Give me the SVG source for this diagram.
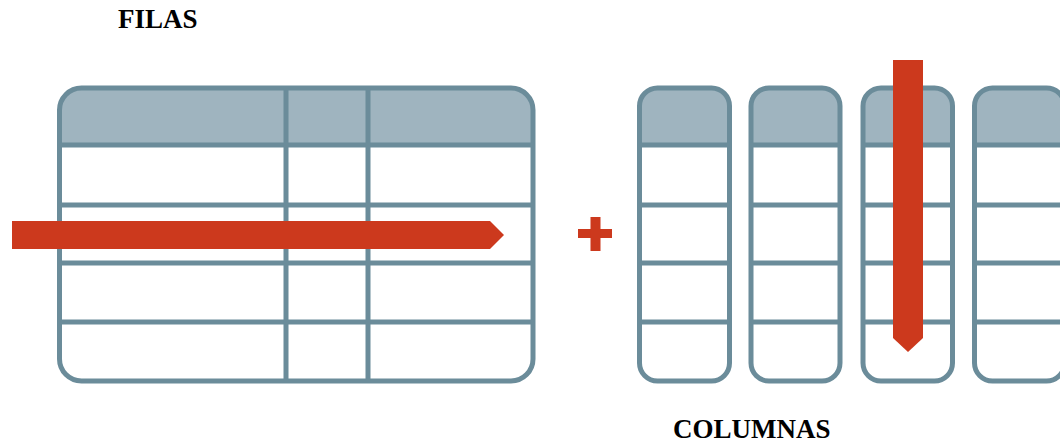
<svg xmlns="http://www.w3.org/2000/svg" width="1060" height="443" viewBox="0 0 1060 443">
<style>
.hdr{fill:#9fb4bf}
.frame{fill:none;stroke:#6b8c9a;stroke-width:5}
.ln{stroke:#6b8c9a;stroke-width:5}
.red{fill:#cc391d}
.lbl{font-family:"Liberation Serif",serif;font-weight:bold;font-size:27px;fill:#000}
</style>
<rect width="1060" height="443" fill="#fff"/>
<text class="lbl" x="118" y="28">FILAS</text>
<g id="table-filas">
<path class="hdr" d="M59.5,145 V110 A22,22 0 0 1 81.5,88 H511 A22,22 0 0 1 533,110 V145 Z"/>
<rect class="frame" x="59.5" y="88" width="473.5" height="293" rx="22"/>
<line class="ln" x1="59.5" y1="145" x2="533" y2="145"/>
<line class="ln" x1="59.5" y1="205" x2="533" y2="205"/>
<line class="ln" x1="59.5" y1="263" x2="533" y2="263"/>
<line class="ln" x1="59.5" y1="322" x2="533" y2="322"/>
<line class="ln" x1="286" y1="88" x2="286" y2="381"/>
<line class="ln" x1="368" y1="88" x2="368" y2="381"/>
</g>
<g id="arrow-filas">
<polygon class="red" points="12,221 490,221 504,235 490,249 12,249"/>
</g>
<g id="plus">
<rect class="red" x="578" y="229" width="34" height="9"/>
<rect class="red" x="590.5" y="217" width="10" height="34"/>
</g>
<g id="col1">
<path class="hdr" d="M639.5,145 V106 A18,18 0 0 1 657.5,88 H711.5 A18,18 0 0 1 729.5,106 V145 Z"/>
<rect class="frame" x="639.5" y="88" width="90" height="293" rx="18"/>
<line class="ln" x1="639.5" y1="145" x2="729.5" y2="145"/>
<line class="ln" x1="639.5" y1="205" x2="729.5" y2="205"/>
<line class="ln" x1="639.5" y1="263" x2="729.5" y2="263"/>
<line class="ln" x1="639.5" y1="322" x2="729.5" y2="322"/>
</g>
<g id="col2">
<path class="hdr" d="M751,145 V106 A18,18 0 0 1 769,88 H822 A18,18 0 0 1 840,106 V145 Z"/>
<rect class="frame" x="751" y="88" width="89" height="293" rx="18"/>
<line class="ln" x1="751" y1="145" x2="840" y2="145"/>
<line class="ln" x1="751" y1="205" x2="840" y2="205"/>
<line class="ln" x1="751" y1="263" x2="840" y2="263"/>
<line class="ln" x1="751" y1="322" x2="840" y2="322"/>
</g>
<g id="col3">
<path class="hdr" d="M863,145 V106 A18,18 0 0 1 881,88 H934.5 A18,18 0 0 1 952.5,106 V145 Z"/>
<rect class="frame" x="863" y="88" width="89.5" height="293" rx="18"/>
<line class="ln" x1="863" y1="145" x2="952.5" y2="145"/>
<line class="ln" x1="863" y1="205" x2="952.5" y2="205"/>
<line class="ln" x1="863" y1="263" x2="952.5" y2="263"/>
<line class="ln" x1="863" y1="322" x2="952.5" y2="322"/>
</g>
<g id="col4">
<path class="hdr" d="M974.5,145 V106 A18,18 0 0 1 992.5,88 H1046.5 A18,18 0 0 1 1064.5,106 V145 Z"/>
<rect class="frame" x="974.5" y="88" width="90" height="293" rx="18"/>
<line class="ln" x1="974.5" y1="145" x2="1064.5" y2="145"/>
<line class="ln" x1="974.5" y1="205" x2="1064.5" y2="205"/>
<line class="ln" x1="974.5" y1="263" x2="1064.5" y2="263"/>
<line class="ln" x1="974.5" y1="322" x2="1064.5" y2="322"/>
</g>
<g id="arrow-columnas">
<polygon class="red" points="893,60 923,60 923,338 908,352 893,338"/>
</g>
<text class="lbl" x="673" y="438">COLUMNAS</text>
</svg>
